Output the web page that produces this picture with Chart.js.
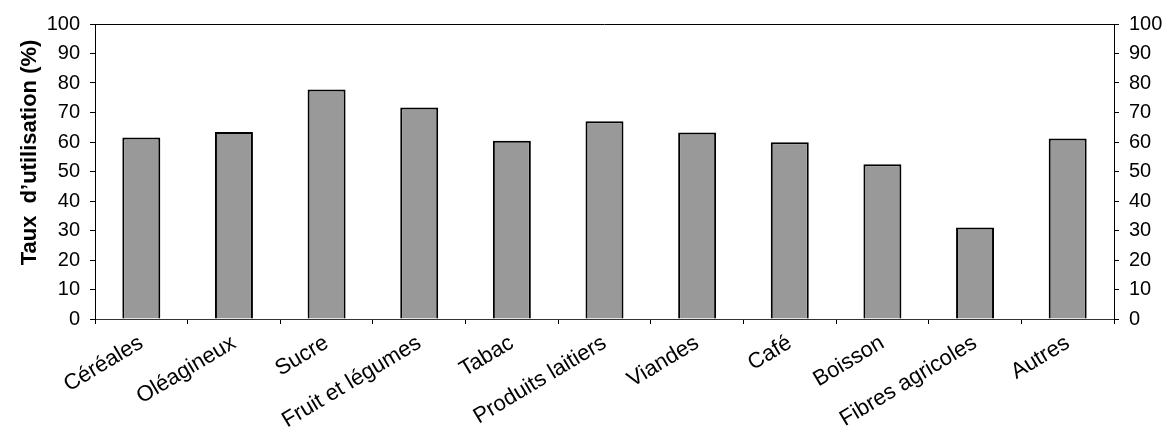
<!DOCTYPE html>
<html>
<head>
<meta charset="utf-8">
<script src="https://cdn.jsdelivr.net/npm/chart.js@4/dist/chart.umd.min.js"></script>
<style>
  html, body { margin: 0; padding: 0; background: #ffffff; }
  #wrap { width: 1169px; height: 435px; }
</style>
</head>
<body>
<div id="wrap"><canvas id="chart" width="1169" height="435"></canvas></div>
<script>
// Utilisation rate by agricultural sector
const categories = ['Céréales', 'Oléagineux', 'Sucre', 'Fruit et légumes', 'Tabac',
  'Produits laitiers', 'Viandes', 'Café', 'Boisson', 'Fibres agricoles', 'Autres'];
const utilisation = [61.5, 63.4, 77.8, 71.7, 60.4, 67.0, 63.2, 59.9, 52.5, 31.0, 61.2];
const axisTitle = 'Taux  d\u2019utilisation (%)';
const yMin = 0, yMax = 100, yStep = 10;

const FONT = 'Liberation Sans, Arial, Helvetica, sans-serif';

// Frame line along the top of the plot and the rotated axis title
const framePlugin = {
  id: 'frame',
  afterDraw(chart) {
    const { ctx, chartArea } = chart;
    ctx.save();
    ctx.strokeStyle = '#000';
    ctx.lineWidth = 1;
    ctx.beginPath();
    ctx.moveTo(chartArea.left, chartArea.top + 0.5);
    ctx.lineTo(chartArea.right, chartArea.top + 0.5);
    ctx.stroke();

    ctx.translate(36, (chartArea.top + chartArea.bottom) / 2 - 19);
    ctx.rotate(-Math.PI / 2);
    ctx.font = 'bold 22px ' + FONT;
    ctx.fillStyle = '#000';
    ctx.textAlign = 'center';
    ctx.textBaseline = 'alphabetic';
    ctx.fillText(axisTitle, 0, 0);
    ctx.restore();
  }
};

const yTickFont = { family: FONT, size: 20 };
const xTickFont = { family: FONT, size: 22 };

new Chart(document.getElementById('chart'), {
  type: 'bar',
  data: {
    labels: categories,
    datasets: [{
      data: utilisation,
      backgroundColor: '#999999',
      borderColor: '#000000',
      borderWidth: 2,
      categoryPercentage: 1,
      barPercentage: 0.41
    }]
  },
  options: {
    responsive: false,
    animation: false,
    devicePixelRatio: 1,
    layout: { padding: { top: 24, left: 0, right: 0, bottom: 0 } },
    plugins: { legend: { display: false }, tooltip: { enabled: false } },
    scales: {
      x: {
        offset: true,
        grid: { display: true, offset: true, drawOnChartArea: false, drawTicks: true, tickLength: 5, color: '#000' },
        border: { display: true, color: '#333', width: 1 },
        ticks: { font: xTickFont, color: '#000', minRotation: 31, maxRotation: 31, padding: 6, autoSkip: false },
        afterFit(scale) { scale.height = 116; }
      },
      y: {
        position: 'left',
        min: yMin, max: yMax,
        grid: { display: true, drawOnChartArea: false, drawTicks: true, tickLength: 5, color: '#000' },
        border: { display: true, color: '#000', width: 1 },
        ticks: { stepSize: yStep, font: yTickFont, color: '#000', padding: 10 },
        afterFit(scale) { scale.width = 95; }
      },
      y2: {
        position: 'right',
        min: yMin, max: yMax,
        grid: { display: true, drawOnChartArea: false, drawTicks: true, tickLength: 5, color: '#000' },
        border: { display: true, color: '#000', width: 1 },
        ticks: { stepSize: yStep, font: yTickFont, color: '#000', padding: 10 },
        afterFit(scale) { scale.width = 55; }
      }
    }
  },
  plugins: [framePlugin]
});
</script>
</body>
</html>
